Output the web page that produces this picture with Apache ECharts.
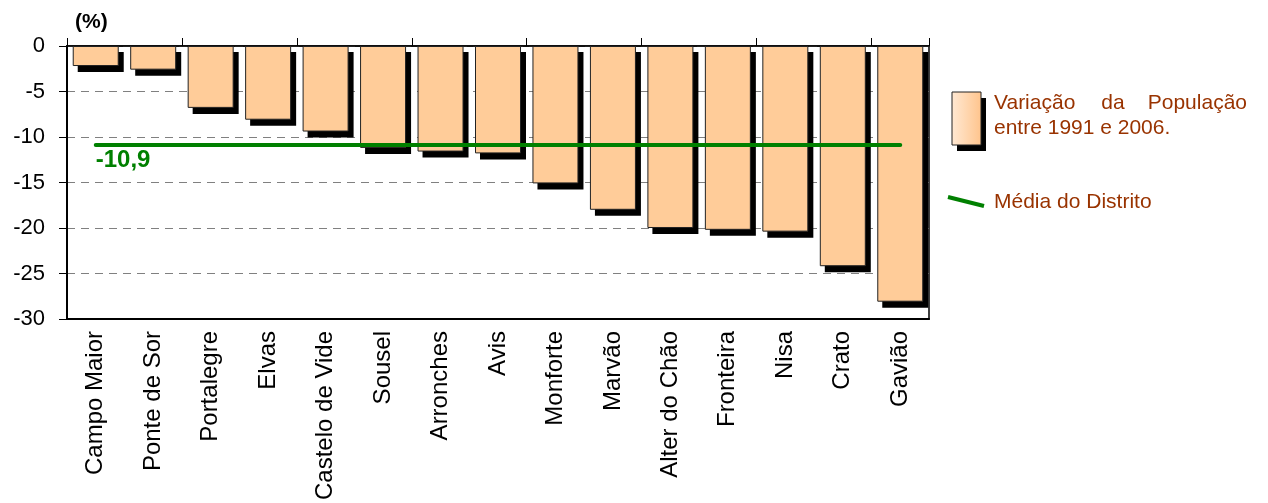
<!DOCTYPE html>
<html>
<head>
<meta charset="utf-8">
<title>Variação da População 1991-2006</title>
<script src="https://cdn.jsdelivr.net/npm/echarts@6/dist/echarts.min.js"></script>
<style>
  html, body { margin: 0; padding: 0; background: #fff; }
  #chart { width: 1268px; height: 503px; }
</style>
</head>
<body>
<div id="chart"></div>
<script>
// Concelhos do distrito de Portalegre
const municipalities = [
  'Campo Maior', 'Ponte de Sor', 'Portalegre', 'Elvas', 'Castelo de Vide',
  'Sousel', 'Arronches', 'Avis', 'Monforte', 'Marvão',
  'Alter do Chão', 'Fronteira', 'Nisa', 'Crato', 'Gavião'
];
// Variação da população entre 1991 e 2006 (%)
const populationChange = [
  -2.2, -2.6, -6.8, -8.1, -9.4,
  -11.2, -11.6, -11.8, -15.1, -18.0,
  -20.0, -20.2, -20.4, -24.2, -28.1
];
// Média do distrito (%)
const districtMean = -10.9;
// Escala do eixo dos valores
const yTicks = [0, -5, -10, -15, -20, -25, -30];

const FONT = '"Liberation Sans", Arial, sans-serif';
const BROWN = '#993300';
const GREEN = '#008000';
const BAR_W = 46;
const SHADOW_DX = 5;
const SHADOW_DY = 6;

const chart = echarts.init(document.getElementById('chart'), null, { renderer: 'canvas' });

const fmt = v => String(v).replace('.', ',');

// sombra preta deslocada de cada barra
function renderShadow(params, api) {
  const top = api.coord([api.value(0), 0]);
  const bottom = api.coord([api.value(0), api.value(1)]);
  return {
    type: 'rect',
    shape: {
      x: top[0] - BAR_W / 2 + SHADOW_DX,
      y: top[1] + SHADOW_DY,
      width: BAR_W,
      height: bottom[1] - top[1]
    },
    style: { fill: '#000' }
  };
}

chart.setOption({
  animation: false,
  backgroundColor: '#ffffff',
  textStyle: { fontFamily: FONT },
  grid: {
    left: 67, right: 339, top: 46, bottom: 184,
    show: true, borderColor: '#000', borderWidth: 1.5
  },
  xAxis: [
    {
      type: 'category',
      data: municipalities,
      position: 'top',
      axisLine: { show: true, lineStyle: { color: '#000', width: 1.5 } },
      axisTick: { show: true, length: 8, alignWithLabel: false, lineStyle: { color: '#000', width: 1 } },
      axisLabel: { show: false },
      splitLine: { show: false }
    },
    {
      type: 'category',
      data: municipalities,
      position: 'bottom',
      axisLine: { show: true, lineStyle: { color: '#000', width: 2 } },
      axisTick: { show: false },
      axisLabel: {
        show: true, rotate: 90, margin: 12, interval: 0,
        fontSize: 24, color: '#000', fontFamily: FONT
      },
      splitLine: { show: false }
    }
  ],
  yAxis: {
    type: 'value',
    min: yTicks[yTicks.length - 1],
    max: yTicks[0],
    interval: 5,
    axisLine: { show: true, lineStyle: { color: '#000', width: 2 } },
    axisTick: { show: true, length: 8, lineStyle: { color: '#000', width: 1 } },
    axisLabel: { fontSize: 22, color: '#000', margin: 22, fontFamily: FONT },
    splitLine: { show: true, lineStyle: { color: '#808080', width: 1, type: [8, 6] } }
  },
  series: [
    {
      type: 'custom',
      xAxisIndex: 0,
      silent: true,
      z: 1,
      data: populationChange.map((v, i) => [i, v]),
      encode: { x: 0, y: 1 },
      renderItem: renderShadow
    },
    {
      name: 'Variação da População entre 1991 e 2006.',
      type: 'bar',
      xAxisIndex: 0,
      z: 2,
      data: populationChange,
      barWidth: BAR_W,
      itemStyle: {
        color: '#FFCC99',
        borderColor: '#222',
        borderWidth: 1
      },
      markLine: {
        silent: true,
        z: 5,
        symbol: ['none', 'none'],
        lineStyle: { color: GREEN, width: 4, type: 'solid', cap: 'round' },
        label: {
          show: true,
          position: 'insideStartBottom',
          distance: [0, 3],
          formatter: p => fmt(p.value),
          fontSize: 24,
          fontWeight: 'bold',
          color: GREEN,
          fontFamily: FONT
        },
        data: [[
          { coord: [0, districtMean], value: districtMean },
          { coord: [municipalities.length - 1, districtMean], value: districtMean }
        ]]
      }
    }
  ],
  graphic: [
    // título do eixo
    {
      type: 'text', left: 75, top: 12,
      style: { text: '(%)', font: 'bold 21px ' + FONT, fill: '#000' }
    },
    // legenda: barra (sombra + caixa)
    {
      type: 'rect',
      shape: { x: 952 + SHADOW_DX, y: 92 + SHADOW_DY, width: 29, height: 53 },
      style: { fill: '#000' }
    },
    {
      type: 'rect',
      shape: { x: 952, y: 92, width: 29, height: 53 },
      style: {
        fill: new echarts.graphic.LinearGradient(0, 0, 1, 0, [
          { offset: 0, color: '#FFE9D4' },
          { offset: 1, color: '#FFC48C' }
        ]),
        stroke: '#222', lineWidth: 1
      }
    },
    { type: 'text', x: 994, y: 103, style: { text: 'Variação', font: '21px ' + FONT, fill: BROWN, verticalAlign: 'middle', align: 'left' } },
    { type: 'text', x: 1113, y: 103, style: { text: 'da', font: '21px ' + FONT, fill: BROWN, verticalAlign: 'middle', align: 'center' } },
    { type: 'text', x: 1247, y: 103, style: { text: 'População', font: '21px ' + FONT, fill: BROWN, verticalAlign: 'middle', align: 'right' } },
    { type: 'text', x: 994, y: 128, style: { text: 'entre 1991 e 2006.', font: '21px ' + FONT, fill: BROWN, verticalAlign: 'middle', align: 'left' } },
    // legenda: média
    {
      type: 'line',
      shape: { x1: 948, y1: 197, x2: 984, y2: 206 },
      style: { stroke: GREEN, lineWidth: 4 }
    },
    { type: 'text', x: 994, y: 202, style: { text: 'Média do Distrito', font: '21px ' + FONT, fill: BROWN, verticalAlign: 'middle', align: 'left' } }
  ]
});
</script>
</body>
</html>
